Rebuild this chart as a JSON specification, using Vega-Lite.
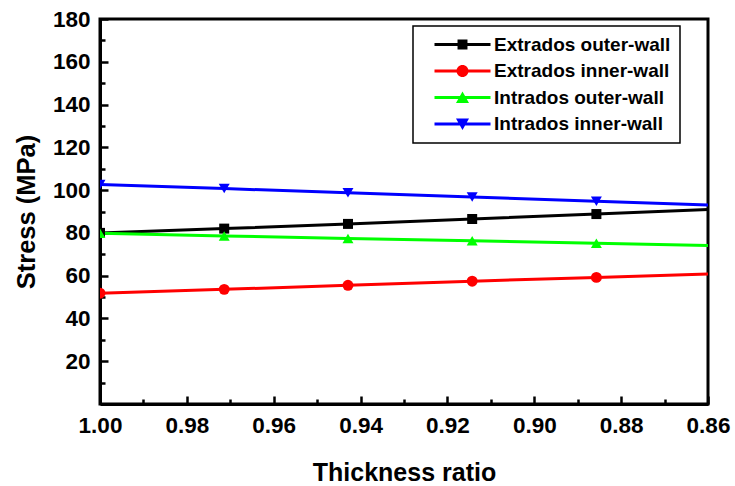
{
  "$schema": "https://vega.github.io/schema/vega-lite/v6.json",
  "autosize": "none",
  "width": 608,
  "height": 385,
  "padding": {"left": 100, "top": 19, "right": 27, "bottom": 82},
  "background": "white",
  "config": {
    "view": {"stroke": "black", "strokeWidth": 3},
    "font": "Liberation Sans",
    "axis": {"grid": false}
  },
  "data": {
    "values": [
      {"ratio": 1.0, "series": "Extrados outer-wall", "stress": 80.0},
      {"ratio": 0.9714, "series": "Extrados outer-wall", "stress": 82.0},
      {"ratio": 0.9429, "series": "Extrados outer-wall", "stress": 84.2},
      {"ratio": 0.9143, "series": "Extrados outer-wall", "stress": 86.5},
      {"ratio": 0.8857, "series": "Extrados outer-wall", "stress": 88.8},
      {"ratio": 0.8571, "series": "Extrados outer-wall", "stress": 91.2},
      {"ratio": 1.0, "series": "Extrados inner-wall", "stress": 51.8},
      {"ratio": 0.9714, "series": "Extrados inner-wall", "stress": 53.6},
      {"ratio": 0.9429, "series": "Extrados inner-wall", "stress": 55.5},
      {"ratio": 0.9143, "series": "Extrados inner-wall", "stress": 57.4},
      {"ratio": 0.8857, "series": "Extrados inner-wall", "stress": 59.2},
      {"ratio": 0.8571, "series": "Extrados inner-wall", "stress": 61.0},
      {"ratio": 1.0, "series": "Intrados outer-wall", "stress": 79.8},
      {"ratio": 0.9714, "series": "Intrados outer-wall", "stress": 78.6},
      {"ratio": 0.9429, "series": "Intrados outer-wall", "stress": 77.4},
      {"ratio": 0.9143, "series": "Intrados outer-wall", "stress": 76.3},
      {"ratio": 0.8857, "series": "Intrados outer-wall", "stress": 75.2},
      {"ratio": 0.8571, "series": "Intrados outer-wall", "stress": 74.0},
      {"ratio": 1.0, "series": "Intrados inner-wall", "stress": 102.6},
      {"ratio": 0.9714, "series": "Intrados inner-wall", "stress": 100.7},
      {"ratio": 0.9429, "series": "Intrados inner-wall", "stress": 98.8},
      {"ratio": 0.9143, "series": "Intrados inner-wall", "stress": 96.8},
      {"ratio": 0.8857, "series": "Intrados inner-wall", "stress": 94.8},
      {"ratio": 0.8571, "series": "Intrados inner-wall", "stress": 92.9}
    ]
  },
  "encoding": {
    "color": {
      "field": "series",
      "type": "nominal",
      "scale": {
        "domain": ["Extrados outer-wall", "Extrados inner-wall", "Intrados outer-wall", "Intrados inner-wall"],
        "range": ["#000000", "#ff0000", "#00ff00", "#0000ff"]
      },
      "legend": {
        "title": null,
        "orient": "none",
        "legendX": 313,
        "legendY": 7,
        "fillColor": "white",
        "strokeColor": "black",
        "padding": 9,
        "rowPadding": 6.5,
        "symbolSize": 196,
        "symbolOffset": 31,
        "labelOffset": 22,
        "labelFont": "Liberation Sans",
        "labelFontWeight": "bold",
        "labelFontSize": 19,
        "labelColor": "black",
        "labelLimit": 400,
        "encode": {
          "legend": {"update": {"strokeWidth": {"value": 1.5}}},
          "symbols": {
            "update": {
              "shape": {"signal": "datum.value === 'Extrados outer-wall' ? 'M-4,-0.21H4V0.21H-4Z M-0.71,-0.71H0.71V0.71H-0.71Z' : datum.value === 'Extrados inner-wall' ? 'M-4,-0.21H4V0.21H-4Z M-0.86,0A0.86,0.86 0 1,1 0.86,0A0.86,0.86 0 1,1 -0.86,0Z' : datum.value === 'Intrados outer-wall' ? 'M-4,-0.21H4V0.21H-4Z M0,-0.86L0.93,0.79L-0.93,0.79Z' : 'M-4,-0.21H4V0.21H-4Z M0,0.86L-0.93,-0.79L0.93,-0.79Z'"},
              "fill": {"signal": "scale('color', datum.value)"},
              "stroke": {"signal": "scale('color', datum.value)"},
              "strokeWidth": {"value": 0},
              "opacity": {"value": 1}
            }
          }
        }
      }
    }
  },
  "layer": [
    {
      "mark": {"type": "line", "strokeWidth": 3, "clip": true},
      "encoding": {
        "x": {
          "field": "ratio",
          "type": "quantitative",
          "scale": {"domain": [0.86, 1.0], "reverse": true, "nice": false, "zero": false},
          "axis": {
            "orient": "bottom",
            "title": "Thickness ratio",
            "titleFont": "Liberation Sans",
            "titleFontSize": 25,
            "titleFontWeight": "bold",
            "titleColor": "black",
            "titlePadding": 24,
            "values": [1.0, 0.98, 0.96, 0.94, 0.92, 0.9, 0.88, 0.86],
            "format": ".2f",
            "labelFont": "Liberation Sans",
            "labelFontSize": 22.5,
            "labelFontWeight": "bold",
            "labelColor": "black",
            "labelPadding": 18,
            "labelFlush": false,
            "labelOverlap": false,
            "tickSize": -8,
            "tickWidth": 2.5,
            "tickColor": "black",
            "domainColor": "black",
            "domainWidth": 3
          }
        },
        "y": {
          "field": "stress",
          "type": "quantitative",
          "scale": {"domain": [0, 180], "nice": false},
          "axis": {
            "orient": "left",
            "title": "Stress (MPa)",
            "titleFont": "Liberation Sans",
            "titleFontSize": 25.5,
            "titleFontWeight": "bold",
            "titleColor": "black",
            "titlePadding": 13,
            "values": [20, 40, 60, 80, 100, 120, 140, 160, 180],
            "labelFont": "Liberation Sans",
            "labelFontSize": 22.5,
            "labelFontWeight": "bold",
            "labelColor": "black",
            "labelPadding": 18,
            "labelFlush": false,
            "labelOverlap": false,
            "tickSize": -8,
            "tickWidth": 2.5,
            "tickColor": "black",
            "domainColor": "black",
            "domainWidth": 3
          }
        }
      }
    },
    {
      "transform": [{"filter": "datum.series === 'Extrados outer-wall'"}],
      "mark": {"type": "point", "shape": "square", "filled": true, "opacity": 1, "size": 100, "clip": true},
      "encoding": {
        "x": {
          "field": "ratio",
          "type": "quantitative",
          "axis": {
            "orient": "bottom",
            "title": null,
            "labels": false,
            "domain": false,
            "values": [0.99, 0.97, 0.95, 0.93, 0.91, 0.89, 0.87],
            "tickSize": -5,
            "tickWidth": 2.5,
            "tickColor": "black"
          }
        },
        "y": {
          "field": "stress",
          "type": "quantitative",
          "axis": {
            "orient": "left",
            "title": null,
            "labels": false,
            "domain": false,
            "values": [10, 30, 50, 70, 90, 110, 130, 150, 170],
            "tickSize": -5,
            "tickWidth": 2.5,
            "tickColor": "black"
          }
        }
      }
    },
    {
      "transform": [{"filter": "datum.series === 'Extrados inner-wall'"}],
      "mark": {"type": "point", "shape": "circle", "filled": true, "opacity": 1, "size": 120, "clip": true},
      "encoding": {
        "x": {"field": "ratio", "type": "quantitative", "axis": null},
        "y": {"field": "stress", "type": "quantitative", "axis": null}
      }
    },
    {
      "transform": [{"filter": "datum.series === 'Intrados outer-wall'"}],
      "mark": {"type": "point", "shape": "triangle-up", "filled": true, "opacity": 1, "size": 120, "clip": true},
      "encoding": {
        "x": {"field": "ratio", "type": "quantitative", "axis": null},
        "y": {"field": "stress", "type": "quantitative", "axis": null}
      }
    },
    {
      "transform": [{"filter": "datum.series === 'Intrados inner-wall'"}],
      "mark": {"type": "point", "shape": "triangle-down", "filled": true, "opacity": 1, "size": 120, "clip": true},
      "encoding": {
        "x": {"field": "ratio", "type": "quantitative", "axis": null},
        "y": {"field": "stress", "type": "quantitative", "axis": null}
      }
    }
  ],
  "resolve": {"axis": {"x": "independent", "y": "independent"}}
}
